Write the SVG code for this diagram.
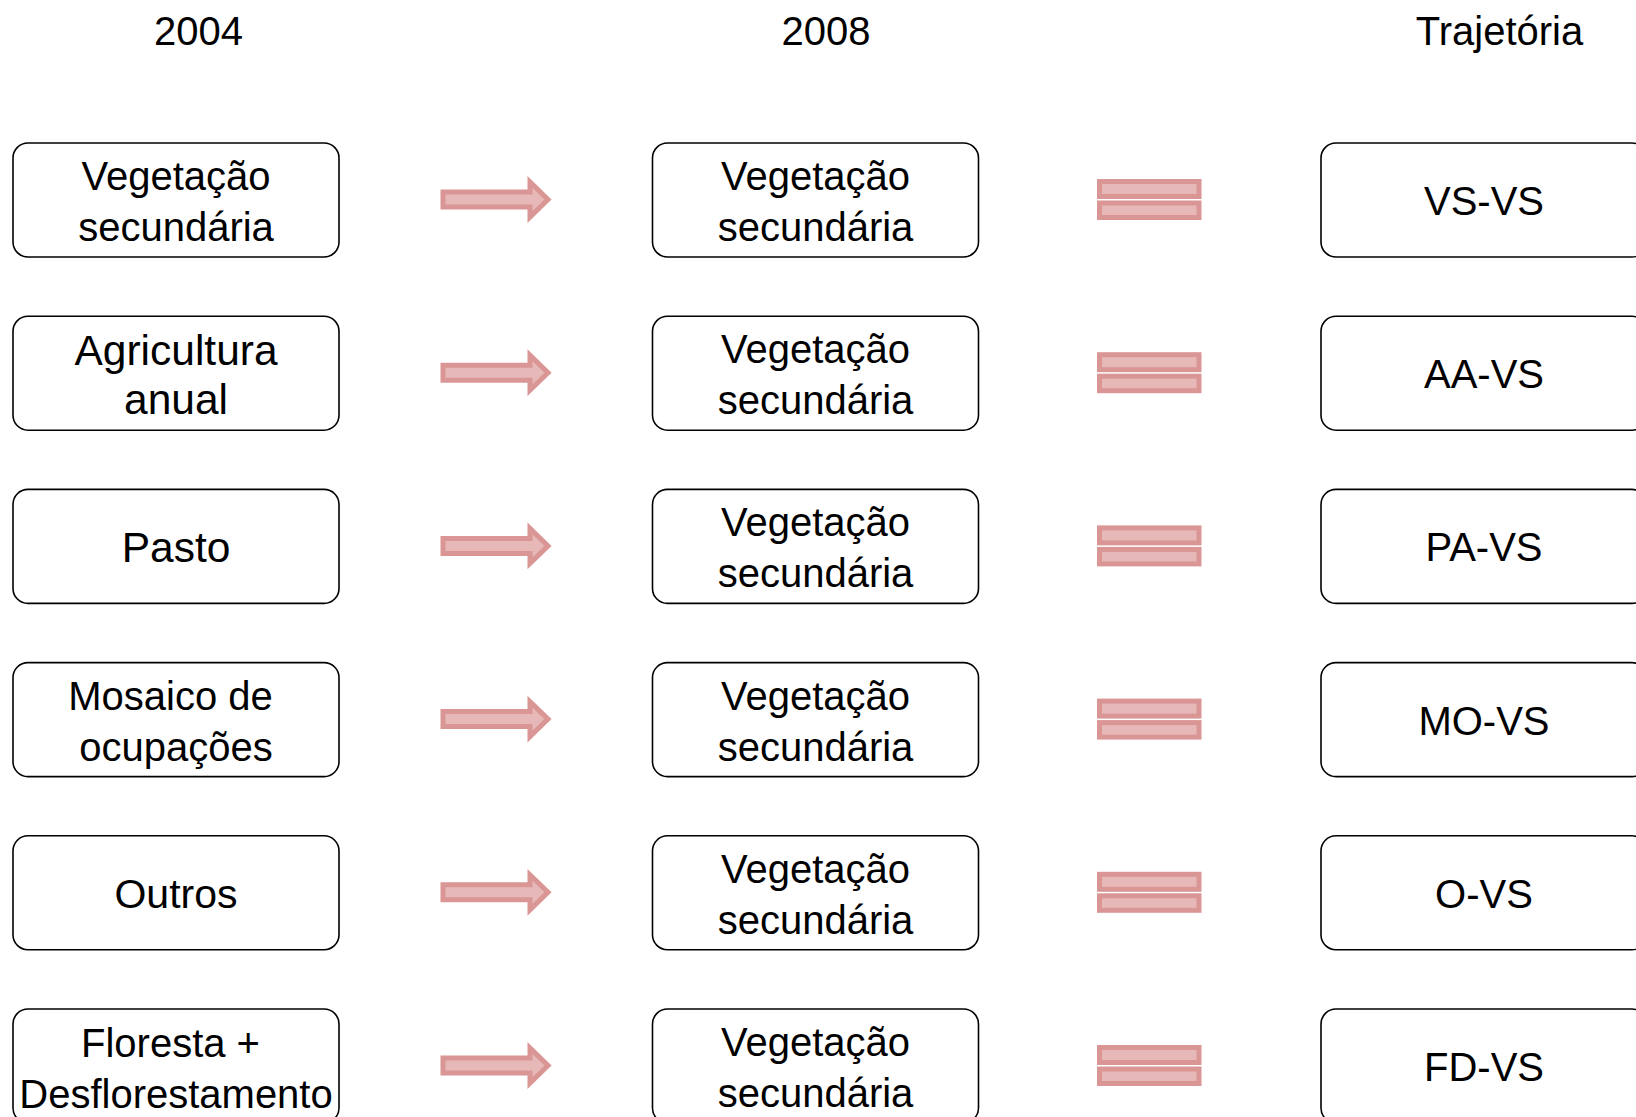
<svg xmlns="http://www.w3.org/2000/svg" width="1636" height="1117" viewBox="0 0 1636 1117">
<defs>
<style>
.box{fill:#ffffff;stroke:#000000;stroke-width:1.6}
.t{font-family:"Liberation Sans",Arial,sans-serif;font-size:40px;fill:#000000;text-anchor:middle}
.big{font-size:42.5px}
.mid{font-size:41px}
.sym{fill:#e6b9b8;stroke:#d99694;stroke-width:5;stroke-linejoin:miter}
</style>
<g id="arrow">
<polygon class="sym" points="443,192 530,192 530,182 548,199.5 530,217 530,207 443,207"/>
</g>
<g id="eq">
<rect class="sym" x="1099.5" y="181.5" width="99.5" height="15"/>
<rect class="sym" x="1099.5" y="203" width="99.5" height="14.5"/>
</g>
</defs>
<rect width="1636" height="1117" fill="#ffffff"/>
<g id="headers">
<text class="t" x="198.5" y="45">2004</text>
<text class="t" x="826" y="45">2008</text>
<text class="t" x="1499.5" y="45">Trajetória</text>
</g>
<g id="connectors">
<use href="#arrow" transform="translate(0,0)"/>
<use href="#arrow" transform="translate(0,173.2)"/>
<use href="#arrow" transform="translate(0,346.4)"/>
<use href="#arrow" transform="translate(0,519.6)"/>
<use href="#arrow" transform="translate(0,692.8)"/>
<use href="#arrow" transform="translate(0,866)"/>
<use href="#eq" transform="translate(0,0)"/>
<use href="#eq" transform="translate(0,173.2)"/>
<use href="#eq" transform="translate(0,346.4)"/>
<use href="#eq" transform="translate(0,519.6)"/>
<use href="#eq" transform="translate(0,692.8)"/>
<use href="#eq" transform="translate(0,866)"/>
</g>
<g id="a1"><rect class="box" x="13" y="143" width="326" height="114" rx="15"/><text class="t" x="176" y="190">Vegetação</text><text class="t" x="176" y="241">secundária</text></g>
<g id="a2"><rect class="box" x="13" y="316.2" width="326" height="114" rx="15"/><text class="t big" x="176" y="365.2">Agricultura</text><text class="t big" x="176" y="413.5">anual</text></g>
<g id="a3"><rect class="box" x="13" y="489.4" width="326" height="114" rx="15"/><text class="t big" x="176" y="561.5">Pasto</text></g>
<g id="a4"><rect class="box" x="13" y="662.6" width="326" height="114" rx="15"/><text class="t" x="170.5" y="709.6">Mosaico de</text><text class="t" x="176" y="760.6">ocupações</text></g>
<g id="a5"><rect class="box" x="13" y="835.8" width="326" height="114" rx="15"/><text class="t mid" x="176" y="907.8">Outros</text></g>
<g id="a6"><rect class="box" x="13" y="1009" width="326" height="114" rx="15"/><text class="t" x="170.5" y="1057">Floresta +</text><text class="t" x="176" y="1108">Desflorestamento</text></g>
<g id="b1"><rect class="box" x="652.5" y="143" width="326" height="114" rx="15"/><text class="t" x="815.5" y="190">Vegetação</text><text class="t" x="815.5" y="241">secundária</text></g>
<g id="b2"><rect class="box" x="652.5" y="316.2" width="326" height="114" rx="15"/><text class="t" x="815.5" y="363.2">Vegetação</text><text class="t" x="815.5" y="414.2">secundária</text></g>
<g id="b3"><rect class="box" x="652.5" y="489.4" width="326" height="114" rx="15"/><text class="t" x="815.5" y="536.4">Vegetação</text><text class="t" x="815.5" y="587.4">secundária</text></g>
<g id="b4"><rect class="box" x="652.5" y="662.6" width="326" height="114" rx="15"/><text class="t" x="815.5" y="709.6">Vegetação</text><text class="t" x="815.5" y="760.6">secundária</text></g>
<g id="b5"><rect class="box" x="652.5" y="835.8" width="326" height="114" rx="15"/><text class="t" x="815.5" y="882.8">Vegetação</text><text class="t" x="815.5" y="933.8">secundária</text></g>
<g id="b6"><rect class="box" x="652.5" y="1009" width="326" height="114" rx="15"/><text class="t" x="815.5" y="1056">Vegetação</text><text class="t" x="815.5" y="1107">secundária</text></g>
<g id="c1"><rect class="box" x="1321" y="143" width="326" height="114" rx="15"/><text class="t" x="1484" y="215">VS-VS</text></g>
<g id="c2"><rect class="box" x="1321" y="316.2" width="326" height="114" rx="15"/><text class="t" x="1484" y="388.2">AA-VS</text></g>
<g id="c3"><rect class="box" x="1321" y="489.4" width="326" height="114" rx="15"/><text class="t" x="1484" y="561.4">PA-VS</text></g>
<g id="c4"><rect class="box" x="1321" y="662.6" width="326" height="114" rx="15"/><text class="t" x="1484" y="734.6">MO-VS</text></g>
<g id="c5"><rect class="box" x="1321" y="835.8" width="326" height="114" rx="15"/><text class="t" x="1484" y="907.8">O-VS</text></g>
<g id="c6"><rect class="box" x="1321" y="1009" width="326" height="114" rx="15"/><text class="t" x="1484" y="1081">FD-VS</text></g>
</svg>
